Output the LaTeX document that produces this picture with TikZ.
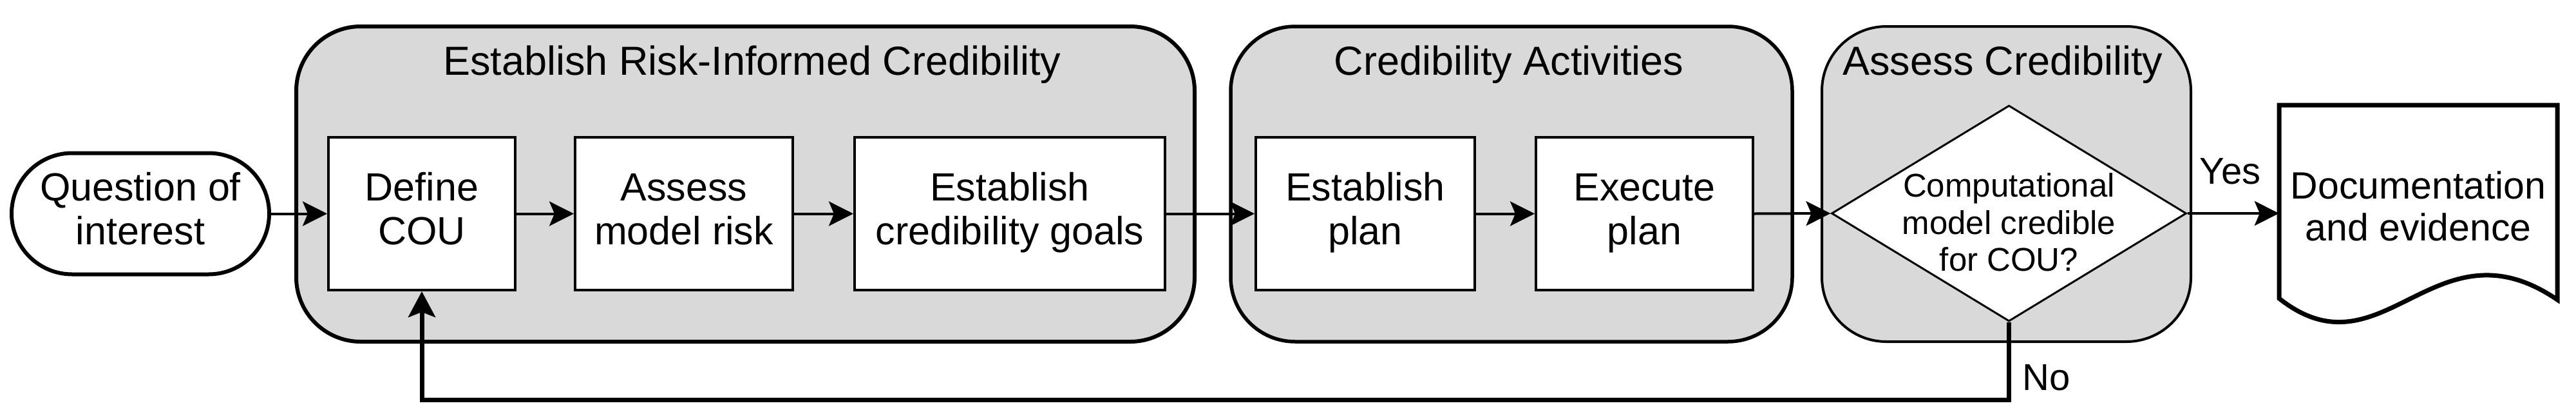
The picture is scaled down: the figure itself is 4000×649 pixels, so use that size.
\documentclass[tikz,border=0pt]{standalone}
\usepackage{fontspec}
\setmainfont{Liberation Sans}
\usetikzlibrary{shapes.geometric,arrows.meta}
\definecolor{panelgray}{RGB}{217,217,217}
\begin{document}
\begin{tikzpicture}[x=1pt,y=-1pt,
  panel/.style={draw, fill=panelgray, rounded corners=100pt, minimum height=489pt, inner sep=0pt},
  stepbox/.style={draw, fill=white, line width=4pt, minimum height=237pt, inner sep=0pt, align=center, font=\fontsize{61}{68}\selectfont},
  flow/.style={line width=4pt, -{Stealth[length=38pt,width=38pt,inset=8pt]}},
  paneltitle/.style={anchor=base, inner sep=0pt, font=\fontsize{63}{70}\selectfont},
  lbl/.style={anchor=base, inner sep=0pt, font=\fontsize{58}{64}\selectfont},
]
\useasboundingbox (0,0) rectangle (4000,649);
% panels
\node[panel, line width=6pt, minimum width=1395pt] (p1) at (1157.5,285.5) {};
\node[panel, line width=5.5pt, minimum width=872pt] (p2) at (2347,285.5) {};
\node[panel, line width=4pt, minimum width=573pt] (p3) at (3115.5,285.5) {};
\node[paneltitle] (t1) at (1168,116) {Establish Risk-Informed Credibility};
\node[paneltitle] (t2) at (2343,116) {Credibility Activities};
\node[paneltitle] (t3) at (3110,116) {Assess Credibility};
% start
\node[draw, fill=white, line width=6pt, rounded corners=94pt, minimum width=400pt, minimum height=188pt, inner sep=0pt, align=center, font=\fontsize{61}{68}\selectfont] (q) at (218,331.5) {\strut Question of\\\strut interest};
% steps
\node[stepbox, minimum width=290pt] (def) at (655,331.5) {\strut Define\\\strut COU};
\node[stepbox, minimum width=338pt] (ass) at (1062,331.5) {\strut Assess\\\strut model risk};
\node[stepbox, minimum width=482pt] (goal) at (1568,331.5) {\strut Establish\\\strut credibility goals};
\node[stepbox, minimum width=340pt] (plan) at (2120,331.5) {\strut Establish\\\strut plan};
\node[stepbox, minimum width=337pt] (exec) at (2553.5,331.5) {\strut Execute\\\strut plan};
% decision
\node[diamond, draw, fill=white, line width=3pt, minimum width=551pt, minimum height=335pt, inner sep=0pt] (d) at (3119.5,331) {};
\node[align=center, inner sep=0pt, font=\fontsize{51}{57.5}\selectfont] (dtext) at (3119.5,351.5) {\strut Computational\\\strut model credible\\\strut for COU?};
% document
\draw[line width=7pt, fill=white] (3539,163) -- (3971,163) -- (3971,465) .. controls (3780,335) and (3700,590) .. (3539,463) -- cycle;
\node[minimum width=432pt, minimum height=300pt, inner sep=0pt, align=center, font=\fontsize{59}{65}\selectfont] (doc) at (3755,327.5) {\strut Documentation\\\strut and evidence};
% connectors
\draw[flow] (q.east) -- (def.west);
\draw[flow] (def.east) -- (ass.west);
\draw[flow] (ass.east) -- (goal.west);
\draw[flow] (goal.east) -- (plan.west);
\draw[flow] (plan.east) -- (exec.west);
\draw[flow] (exec.east) -- (d.west);
\draw[flow] (d.east) -- (d.east -| doc.west);
\coordinate (fbr) at (3119.5,620);
\coordinate (fbl) at (655,620);
\draw[line width=7pt, -{Stealth[length=40pt,width=42pt,inset=8pt]}] (d.south) -- (fbr) -- (fbl) -- (def.south);
\node[lbl] (yes) at (3463,285) {Yes};
\node[lbl, anchor=base west] (no) at (3140,605) {No};
\end{tikzpicture}
\end{document}
